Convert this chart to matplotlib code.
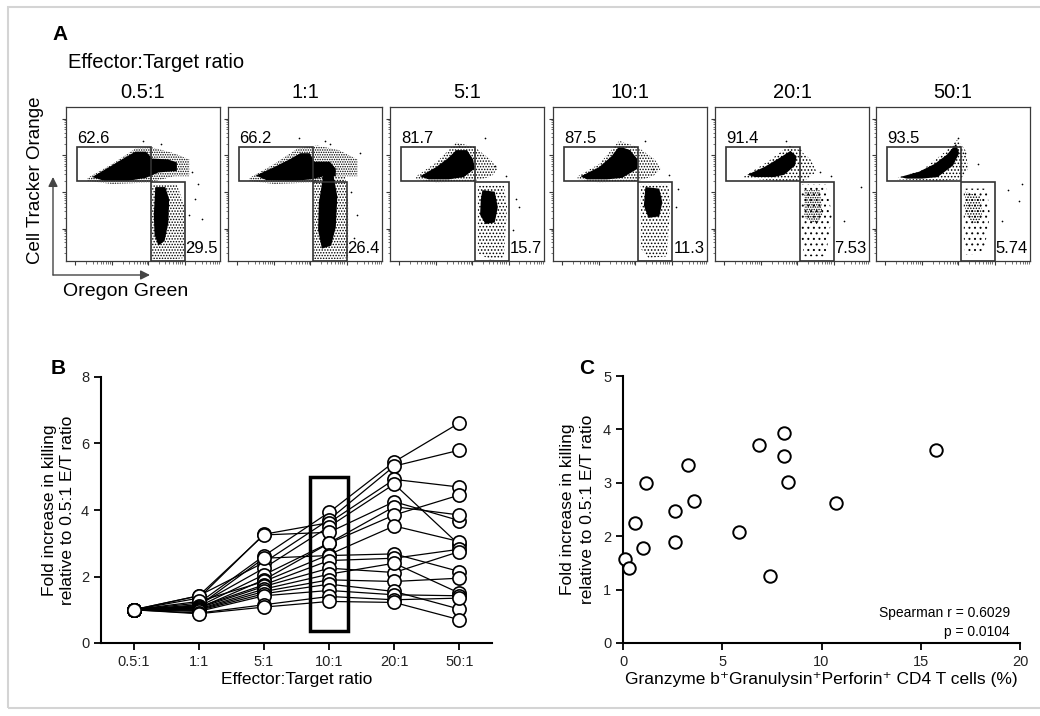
import numpy as np
import matplotlib
matplotlib.use('Agg')
import matplotlib.pyplot as plt
from matplotlib.patches import Rectangle

plt.rcParams['font.family'] = ['Liberation Sans', 'DejaVu Sans']
plt.rcParams['hatch.linewidth'] = 0.7

W, H = 1040, 716

# ---------------- data ----------------
ratios = ['0.5:1', '1:1', '5:1', '10:1', '20:1', '50:1']

# panel A: gate percentages
upper_pct = ['62.6', '66.2', '81.7', '87.5', '91.4', '93.5']
lower_pct = ['29.5', '26.4', '15.7', '11.3', '7.53', '5.74']

# gates (x0, y0, x1, y1) in plot fraction
gate_upper = (0.07, 0.52, 0.55, 0.74)
gate_lower = (0.55, 0.0, 0.77, 0.51)

# cloud outlines, one entry per panel: [xs, ys]
upper_core = [
    [[0.17, 0.28, 0.38, 0.45, 0.52, 0.56, 0.66, 0.72, 0.72, 0.60, 0.52, 0.40, 0.25],
     [0.545, 0.61, 0.67, 0.71, 0.71, 0.665, 0.66, 0.64, 0.585, 0.575, 0.54, 0.52, 0.52]],
    [[0.18, 0.30, 0.40, 0.47, 0.53, 0.56, 0.66, 0.70, 0.70, 0.62, 0.54, 0.42, 0.25],
     [0.555, 0.61, 0.66, 0.70, 0.70, 0.645, 0.645, 0.60, 0.55, 0.55, 0.53, 0.52, 0.525]],
    [[0.195, 0.30, 0.38, 0.43, 0.50, 0.54, 0.55, 0.48, 0.38, 0.25],
     [0.55, 0.61, 0.67, 0.72, 0.72, 0.66, 0.60, 0.545, 0.53, 0.53]],
    [[0.18, 0.30, 0.38, 0.43, 0.50, 0.55, 0.55, 0.45, 0.35, 0.22],
     [0.55, 0.61, 0.68, 0.745, 0.72, 0.66, 0.60, 0.54, 0.53, 0.53]],
    [[0.21, 0.32, 0.42, 0.49, 0.53, 0.52, 0.45, 0.38, 0.26],
     [0.56, 0.61, 0.67, 0.715, 0.68, 0.62, 0.56, 0.545, 0.545]],
    [[0.155, 0.28, 0.38, 0.46, 0.52, 0.54, 0.50, 0.40, 0.30, 0.20],
     [0.545, 0.58, 0.63, 0.69, 0.76, 0.70, 0.62, 0.545, 0.535, 0.535]],
]
upper_halo = [
    [[0.14, 0.30, 0.45, 0.55, 0.70, 0.80, 0.80, 0.70, 0.55, 0.30, 0.14],
     [0.54, 0.63, 0.73, 0.74, 0.70, 0.66, 0.55, 0.55, 0.51, 0.50, 0.52]],
    [[0.14, 0.30, 0.45, 0.58, 0.72, 0.84, 0.84, 0.70, 0.55, 0.30, 0.14],
     [0.54, 0.63, 0.73, 0.75, 0.72, 0.66, 0.55, 0.55, 0.51, 0.50, 0.52]],
    [[0.17, 0.30, 0.43, 0.55, 0.65, 0.70, 0.66, 0.55, 0.30, 0.17],
     [0.55, 0.64, 0.77, 0.74, 0.66, 0.60, 0.55, 0.52, 0.51, 0.53]],
    [[0.16, 0.30, 0.43, 0.55, 0.66, 0.70, 0.65, 0.55, 0.30, 0.16],
     [0.55, 0.63, 0.78, 0.74, 0.66, 0.60, 0.55, 0.52, 0.51, 0.53]],
    [[0.19, 0.35, 0.48, 0.55, 0.62, 0.66, 0.58, 0.40, 0.19],
     [0.55, 0.65, 0.75, 0.72, 0.66, 0.58, 0.52, 0.52, 0.54]],
    [[0.14, 0.30, 0.45, 0.53, 0.58, 0.60, 0.55, 0.40, 0.14],
     [0.54, 0.59, 0.71, 0.79, 0.72, 0.60, 0.53, 0.52, 0.53]],
]
lower_core = [
    [[0.58, 0.645, 0.67, 0.665, 0.64, 0.60, 0.575, 0.57],
     [0.48, 0.48, 0.40, 0.25, 0.13, 0.10, 0.17, 0.30]],
    [[0.62, 0.68, 0.71, 0.70, 0.67, 0.61, 0.585, 0.59, 0.61],
     [0.58, 0.58, 0.42, 0.22, 0.10, 0.08, 0.20, 0.38, 0.50]],
    [[0.60, 0.68, 0.70, 0.68, 0.62, 0.585, 0.59],
     [0.46, 0.45, 0.35, 0.25, 0.24, 0.30, 0.40]],
    [[0.60, 0.69, 0.71, 0.69, 0.62, 0.59],
     [0.48, 0.47, 0.38, 0.29, 0.28, 0.36]],
    [[0.58, 0.68, 0.70, 0.66, 0.58],
     [0.46, 0.46, 0.30, 0.24, 0.28]],
    [[0.58, 0.68, 0.69, 0.64, 0.58],
     [0.45, 0.42, 0.28, 0.24, 0.30]],
]
lower_halo = [
    [[0.555, 0.72, 0.77, 0.77, 0.70, 0.555], [0.50, 0.50, 0.35, 0.02, 0.01, 0.01]],
    [[0.555, 0.76, 0.78, 0.78, 0.70, 0.555], [0.55, 0.55, 0.40, 0.02, 0.01, 0.01]],
    [[0.57, 0.74, 0.76, 0.74, 0.65, 0.57], [0.49, 0.49, 0.35, 0.02, 0.01, 0.05]],
    [[0.57, 0.75, 0.76, 0.74, 0.62, 0.57], [0.50, 0.50, 0.35, 0.03, 0.02, 0.08]],
    [[0.56, 0.72, 0.76, 0.72, 0.58, 0.56], [0.50, 0.50, 0.30, 0.03, 0.03, 0.15]],
    [[0.57, 0.72, 0.74, 0.70, 0.58, 0.57], [0.47, 0.47, 0.30, 0.05, 0.04, 0.15]],
]
upper_halo_hatch = ['.......', '.......', '......', '......', '.....', '.....']
lower_halo_hatch = ['......', '......', '.....', '.....', '...', '...']
core_hatch = [None, None, None, None, '.......', '......']
stray_x = [
    [0.50, 0.62, 0.82, 0.86, 0.84, 0.80, 0.88, 0.82],
    [0.46, 0.63, 0.66, 0.86, 0.80, 0.84, 0.82],
    [0.45, 0.62, 0.68, 0.75, 0.82, 0.84, 0.80],
    [0.45, 0.60, 0.65, 0.75, 0.81, 0.80],
    [0.46, 0.55, 0.68, 0.75, 0.84, 0.95],
    [0.53, 0.58, 0.66, 0.86, 0.93, 0.95, 0.82],
]
stray_y = [
    [0.78, 0.76, 0.58, 0.50, 0.40, 0.30, 0.27, 0.12],
    [0.80, 0.78, 0.76, 0.70, 0.45, 0.30, 0.15],
    [0.75, 0.80, 0.62, 0.55, 0.40, 0.35, 0.20],
    [0.74, 0.78, 0.60, 0.56, 0.47, 0.35],
    [0.78, 0.72, 0.58, 0.55, 0.26, 0.48],
    [0.80, 0.70, 0.63, 0.46, 0.39, 0.50, 0.26],
]

# panel B: fold increase per donor (17 donors) at each E:T ratio
fold_05 = [1.0, 1.0, 1.0, 1.0, 1.0, 1.0, 1.0, 1.0, 1.0, 1.0, 1.0, 1.0, 1.0, 1.0, 1.0, 1.0, 1.0]
fold_1 = [1.20, 1.42, 1.35, 1.15, 1.42, 1.10, 1.05, 1.25, 1.12, 1.08, 1.05, 1.02, 1.00, 0.98, 0.95, 0.90, 0.88]
fold_5 = [2.62, 2.42, 3.27, 2.25, 3.25, 2.05, 1.90, 1.85, 2.55, 1.75, 1.70, 1.62, 1.55, 1.48, 1.42, 1.15, 1.08]
fold_10 = [3.93, 3.71, 3.62, 3.50, 3.33, 3.01, 3.00, 2.66, 2.63, 2.48, 2.25, 2.07, 1.90, 1.77, 1.58, 1.40, 1.25]
fold_20 = [5.45, 5.32, 4.92, 4.78, 4.25, 4.10, 3.85, 3.52, 2.68, 2.55, 2.12, 2.40, 1.85, 1.55, 1.45, 1.30, 1.22]
fold_50 = [6.62, 5.80, 4.69, 2.95, 3.68, 3.85, 4.45, 3.05, 2.15, 2.82, 2.75, 1.50, 1.95, 1.02, 1.42, 1.35, 0.70]

# panel C: triple-positive CD4 T cells (%) per donor, against fold at 10:1
gzm_pct = [8.09, 6.83, 15.75, 8.12, 3.27, 8.32, 1.16, 3.56, 10.75, 2.63, 0.59, 5.86, 2.62, 0.99, 0.10, 0.32, 7.42]
spearman_r = '0.6029'
spearman_p = '0.0104'


def px_box(l, t, r, b):
    return [l / W, 1 - b / H, (r - l) / W, (b - t) / H]


fig = plt.figure(figsize=(W / 100, H / 100), dpi=100)

# outer frame
fig.add_artist(Rectangle((8 / W, 1 - 708 / H), (1045 - 8) / W, (708 - 7) / H,
                         transform=fig.transFigure, fill=False,
                         edgecolor='#d4d4d4', lw=1.5))

# ---------------- panel A ----------------
a_left = [66, 228, 390, 553, 715, 876]
dec = 0.235
yt_major = [0.21, 0.45, 0.69, 0.92]
yt_minor = [p + dec * np.log10(k) for p in [-0.02, 0.21, 0.45, 0.69] for k in range(2, 10)
            if p + dec * np.log10(k) < 1]
xt_major = [0.06, 0.30, 0.53, 0.77]
xt_minor = [p + dec * np.log10(k) for p in xt_major for k in range(2, 10)
            if p + dec * np.log10(k) < 1]

for i, ratio in enumerate(ratios):
    ax = fig.add_axes(px_box(a_left[i], 107, a_left[i] + 154, 261))
    ax.set_xlim(0, 1)
    ax.set_ylim(0, 1)
    for s in ax.spines.values():
        s.set_color('#3a3a3a')
        s.set_linewidth(0.9)
    ax.set_xticks(xt_major)
    ax.set_xticks(xt_minor, minor=True)
    ax.set_yticks(yt_major)
    ax.set_yticks(yt_minor, minor=True)
    ax.tick_params(which='both', direction='out', color='#3a3a3a',
                   labelleft=False, labelbottom=False)
    ax.tick_params(which='major', length=3, width=0.8)
    ax.tick_params(which='minor', length=1.8, width=0.5)

    ax.fill(upper_halo[i][0], upper_halo[i][1], facecolor='none', edgecolor='black',
            hatch=upper_halo_hatch[i], lw=0)
    ax.fill(lower_halo[i][0], lower_halo[i][1], facecolor='none', edgecolor='black',
            hatch=lower_halo_hatch[i], lw=0)
    ax.fill(upper_core[i][0], upper_core[i][1], color='black', lw=0)
    if core_hatch[i] is None:
        ax.fill(lower_core[i][0], lower_core[i][1], color='black', lw=0)
    else:
        ax.fill(lower_core[i][0], lower_core[i][1], facecolor='none', edgecolor='black',
                hatch=core_hatch[i], lw=0)
    ax.scatter(stray_x[i], stray_y[i], s=1.5, color='black', lw=0)

    gx0, gy0, gx1, gy1 = gate_upper
    ax.add_patch(Rectangle((gx0, gy0), gx1 - gx0, gy1 - gy0, fill=False,
                           edgecolor='#333333', lw=1.2))
    gx0, gy0, gx1, gy1 = gate_lower
    ax.add_patch(Rectangle((gx0, gy0), gx1 - gx0, gy1 - gy0, fill=False,
                           edgecolor='#333333', lw=1.2))
    ax.text(gate_upper[0] + 0.005, gate_upper[3] + 0.025, upper_pct[i], fontsize=12,
            ha='left', va='baseline')
    ax.text(0.985, 0.05, lower_pct[i], fontsize=12, ha='right', va='baseline')
    fig.text((a_left[i] + 77) / W, 1 - 93 / H, ratio, fontsize=14.5,
             ha='center', va='center')

fig.text(52 / W, 1 - 34 / H, 'A', fontsize=15, fontweight='bold', ha='left', va='center')
fig.text(68 / W, 1 - 63 / H, 'Effector:Target ratio', fontsize=14.5, ha='left', va='center')
fig.text(35.5 / W, 1 - 180 / H, 'Cell Tracker Orange', fontsize=13.5, rotation=90,
         ha='center', va='center')
fig.text(63 / W, 1 - 291 / H, 'Oregon Green', fontsize=14, ha='left', va='center')
arrow = dict(arrowstyle='-|>', color='#444444', lw=1.0, mutation_scale=14,
             shrinkA=0, shrinkB=0)
plt.annotate('', xy=(53 / W, 1 - 177 / H), xytext=(53 / W, 1 - 275 / H),
             xycoords='figure fraction', arrowprops=arrow)
plt.annotate('', xy=(150 / W, 1 - 275 / H), xytext=(53 / W, 1 - 275 / H),
             xycoords='figure fraction', arrowprops=arrow)

# ---------------- panel B ----------------
axb = fig.add_axes(px_box(101, 377, 492, 643))
fold = np.array([fold_05, fold_1, fold_5, fold_10, fold_20, fold_50])
xpos = np.arange(len(ratios))
axb.plot(xpos, fold, color='black', lw=0.9, zorder=2)
axb.plot(xpos, fold, 'o', mfc='white', mec='black', ms=9.5, mew=1.2, zorder=3,
         clip_on=False)
axb.add_patch(Rectangle((3 - 0.29, 0.36), 0.58, 4.64, fill=False, lw=2.5,
                        edgecolor='black', zorder=4))
axb.set_xlim(-0.5, 5.5)
axb.set_ylim(0, 8)
axb.set_xticks(xpos)
axb.set_xticklabels(ratios)
axb.set_yticks([0, 2, 4, 6, 8])
axb.spines['top'].set_visible(False)
axb.spines['right'].set_visible(False)
for s in ['left', 'bottom']:
    axb.spines[s].set_linewidth(1.5)
axb.tick_params(direction='out', length=5, width=1.3, labelsize=10.5, color='black',
                labelcolor='#222222')
axb.set_xlabel('Effector:Target ratio', fontsize=12.5, labelpad=2)
axb.set_ylabel('Fold increase in killing\nrelative to 0.5:1 E/T ratio', fontsize=12.5,
               linespacing=1.3, labelpad=4)
fig.text(58 / W, 1 - 368 / H, 'B', fontsize=15, fontweight='bold', ha='center', va='center')

# ---------------- panel C ----------------
axc = fig.add_axes(px_box(623, 376, 1020, 643))
axc.plot(gzm_pct, fold_10, 'o', mfc='white', mec='black', ms=9, mew=1.4,
         clip_on=False, zorder=3)
axc.set_xlim(0, 20)
axc.set_ylim(0, 5)
axc.set_xticks([0, 5, 10, 15, 20])
axc.set_yticks([0, 1, 2, 3, 4, 5])
axc.spines['top'].set_visible(False)
axc.spines['right'].set_visible(False)
for s in ['left', 'bottom']:
    axc.spines[s].set_linewidth(1.5)
axc.tick_params(direction='out', length=5, width=1.3, labelsize=10.5, color='black',
                labelcolor='#222222')
axc.set_xlabel('Granzyme b\u207aGranulysin\u207aPerforin\u207a CD4 T cells (%)',
               fontsize=12.5, labelpad=2)
axc.set_ylabel('Fold increase in killing\nrelative to 0.5:1 E/T ratio', fontsize=12.5,
               linespacing=1.35, labelpad=6)
axc.text(0.975, 0.112, 'Spearman r = ' + spearman_r, transform=axc.transAxes,
         fontsize=10, ha='right', va='center')
axc.text(0.975, 0.041, 'p = ' + spearman_p, transform=axc.transAxes,
         fontsize=10, ha='right', va='center')
fig.text(587 / W, 1 - 369 / H, 'C', fontsize=15, fontweight='bold', ha='center', va='center')

fig.savefig('out.png', dpi=100)
